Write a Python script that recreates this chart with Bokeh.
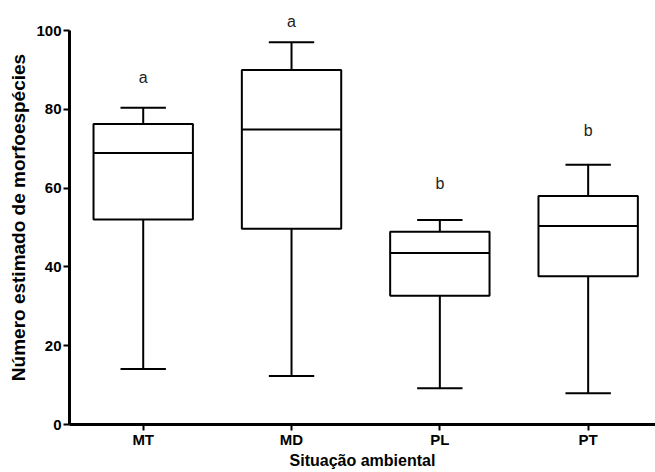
from bokeh.plotting import figure
from bokeh.models import ColumnDataSource, FixedTicker, Range1d
from bokeh.transform import dodge
from bokeh.core.properties import value
from bokeh.embed import file_html
from bokeh.resources import INLINE

# ---- data ----
categories = ["MT", "MD", "PL", "PT"]
q_min = [14.1, 12.3, 9.2, 7.9]
q1 = [52.0, 49.7, 32.7, 37.6]
median = [68.9, 74.9, 43.5, 50.4]
q3 = [76.3, 90.0, 48.9, 58.0]
q_max = [80.4, 97.0, 51.9, 65.9]
letters = ["a", "a", "b", "b"]
letter_y = [88.1, 102.3, 61.2, 74.6]
y_ticks = [0, 20, 40, 60, 80, 100]

x_pos = list(range(len(categories)))

BOX_W = 0.67
CAP_W = 0.306
FONT = "Liberation Sans"

src = ColumnDataSource(dict(
    x=x_pos, cat=categories, q_min=q_min, q1=q1, median=median,
    q3=q3, q_max=q_max, letter=letters, letter_y=letter_y,
))

p = figure(
    width=655, height=472,
    frame_width=586, frame_height=414,
    min_border_left=69, min_border_right=0,
    min_border_top=10, min_border_bottom=48,
    x_range=Range1d(-0.497, 3.454),
    y_range=Range1d(0, 414 / 3.94),
    output_backend="svg", toolbar_location=None,
)
p.outline_line_color = None
p.xgrid.visible = False
p.ygrid.visible = False
p.background_fill_color = "white"
p.border_fill_color = "white"

# whiskers
p.segment(x0="x", y0="q3", x1="x", y1="q_max", source=src,
          line_color="black", line_width=2)
p.segment(x0="x", y0="q_min", x1="x", y1="q1", source=src,
          line_color="black", line_width=2)
# caps
p.segment(x0=dodge("x", -CAP_W / 2, range=p.x_range), y0="q_max",
          x1=dodge("x", CAP_W / 2, range=p.x_range), y1="q_max",
          source=src, line_color="black", line_width=2)
p.segment(x0=dodge("x", -CAP_W / 2, range=p.x_range), y0="q_min",
          x1=dodge("x", CAP_W / 2, range=p.x_range), y1="q_min",
          source=src, line_color="black", line_width=2)
# boxes
p.vbar(x="x", bottom="q1", top="q3", width=BOX_W, source=src,
       fill_color="white", line_color="black", line_width=2)
# medians
p.segment(x0=dodge("x", -BOX_W / 2, range=p.x_range), y0="median",
          x1=dodge("x", BOX_W / 2, range=p.x_range), y1="median",
          source=src, line_color="black", line_width=2)
# significance letters
p.text(x="x", y="letter_y", text="letter", source=src,
       text_align="center", text_baseline="middle",
       text_font=value(FONT), text_font_size="16px", text_color="#222222")

# axes
for ax in (p.xaxis, p.yaxis):
    ax.axis_line_width = 3
    ax.axis_line_color = "black"
    ax.major_tick_line_width = 2
    ax.major_tick_line_color = "black"
    ax.major_tick_in = 0
    ax.major_tick_out = 6
    ax.minor_tick_line_color = None
    ax.major_label_text_font = FONT
    ax.major_label_text_font_style = "bold"
    ax.major_label_text_font_size = "15px"
    ax.major_label_text_color = "black"
    ax.axis_label_text_font = FONT
    ax.axis_label_text_font_style = "bold"
    ax.axis_label_text_color = "black"

p.yaxis.ticker = FixedTicker(ticks=y_ticks)
p.yaxis.bounds = (0, 100)
p.yaxis.major_label_standoff = 2
p.yaxis.axis_label = "Número estimado de morfoespécies"
p.yaxis.axis_label_text_font_size = "19px"
p.yaxis.axis_label_standoff = 4

p.xaxis.ticker = FixedTicker(ticks=x_pos)
p.xaxis.major_label_overrides = {i: c for i, c in zip(x_pos, categories)}
p.xaxis.major_label_standoff = 0
p.xaxis.axis_label = "Situação ambiental"
p.xaxis.axis_label_text_font_size = "16px"
p.xaxis.axis_label_standoff = 1

open("out.html", "w").write(file_html(p, INLINE))
